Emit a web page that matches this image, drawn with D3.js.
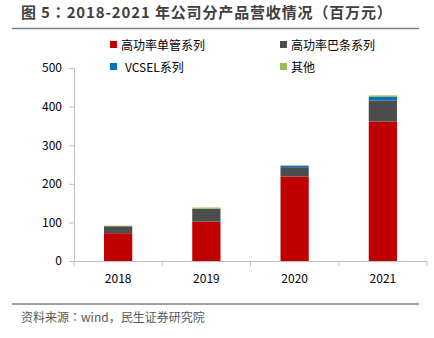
<!DOCTYPE html>
<html>
<head>
<meta charset="utf-8">
<script src="https://cdn.jsdelivr.net/npm/d3@7"></script>
<style>
  body { margin: 0; background: #fff; }
  text { font-family: "Noto Sans CJK SC", "Open Sans", sans-serif; }
</style>
</head>
<body>
<svg id="chart" width="434" height="338"></svg>
<script>
const years = ['2018', '2019', '2020', '2021'];
const seriesNames = ['高功率单管系列', '高功率巴条系列', 'VCSEL系列', '其他'];
const singleTube = [72, 102, 219, 361];
const barStrip = [18, 33, 24, 55];
const vcsel = [0, 0.5, 4, 9];
const others = [1.5, 3, 0.5, 4];
const yTicks = [0, 100, 200, 300, 400, 500];
const colors = ['#C00000', '#4D4D4D', '#0070C0', '#9BBB59'];

const rows = years.map((y, i) => ({
  year: y,
  s0: singleTube[i], s1: barStrip[i], s2: vcsel[i], s3: others[i]
}));
const stack = d3.stack().keys(['s0', 's1', 's2', 's3'])(rows);

const svg = d3.select('#chart');

// title + rules
svg.append('text')
  .attr('x', 21).attr('y', 18)
  .attr('font-size', 15).attr('font-weight', 'bold').attr('fill', '#3f3f3f')
  .style('font-family', '"Noto Sans CJK JP", sans-serif')
  .style('letter-spacing', '0.85px')
  .text('图 5：2018-2021 年公司分产品营收情况（百万元）');
svg.append('line').attr('x1', 12).attr('x2', 419).attr('y1', 28.5).attr('y2', 28.5)
  .attr('stroke', '#7f7f7f').attr('stroke-width', 1.5);
svg.append('line').attr('x1', 12).attr('x2', 419).attr('y1', 304).attr('y2', 304)
  .attr('stroke', '#7f7f7f').attr('stroke-width', 1.5);
svg.append('text')
  .attr('x', 21).attr('y', 322)
  .attr('font-size', 12).attr('fill', '#595959')
  .style('font-family', '"Noto Sans CJK JP", sans-serif')
  .text('资料来源：wind，民生证券研究院');

const x = d3.scaleBand().domain(years).range([74, 427]).paddingInner(0.68).paddingOuter(0.34);
const y = d3.scaleLinear().domain([0, 500]).range([261, 68]);

svg.append('g')
  .selectAll('g')
  .data(stack)
  .join('g')
  .attr('fill', (d, i) => colors[i])
  .selectAll('rect')
  .data((d) => d)
  .join('rect')
  .attr('x', (d) => x(d.data.year))
  .attr('width', x.bandwidth())
  .attr('y', (d) => y(d[1]))
  .attr('height', (d) => y(d[0]) - y(d[1]));

// y axis
const yAxis = svg.append('g')
  .attr('transform', 'translate(74,0)')
  .call(d3.axisLeft(y).tickValues(yTicks).tickSize(5).tickPadding(7));
yAxis.select('.domain').attr('stroke', '#bfbfbf');
yAxis.selectAll('.tick line').attr('stroke', '#bfbfbf');
yAxis.selectAll('text').attr('font-size', 12).attr('fill', '#000');

// x axis
const xAxis = svg.append('g')
  .attr('transform', 'translate(0,261)')
  .call(d3.axisBottom(x).tickSize(0).tickPadding(13));
xAxis.select('.domain').attr('stroke', '#bfbfbf');
xAxis.selectAll('text').attr('font-size', 12).attr('fill', '#000');
const step = x.step();
svg.append('g').selectAll('line')
  .data(d3.range(years.length + 1))
  .join('line')
  .attr('x1', (i) => 74 + i * step).attr('x2', (i) => 74 + i * step)
  .attr('y1', 261).attr('y2', 266)
  .attr('stroke', '#bfbfbf');

// legend
const legendPos = [[110, 46], [280, 46], [110, 68], [280, 68]];
const legend = svg.append('g').selectAll('g')
  .data(seriesNames)
  .join('g')
  .attr('transform', (d, i) => `translate(${legendPos[i][0]},${legendPos[i][1]})`);
legend.append('rect').attr('x', 0).attr('y', -5).attr('width', 7).attr('height', 7)
  .attr('fill', (d, i) => colors[i]);
legend.append('text').attr('x', (d, i) => (i === 2 ? 15 : 11)).attr('y', 4)
  .attr('font-size', 12).attr('fill', '#000')
  .text((d) => d);
</script>
</body>
</html>
